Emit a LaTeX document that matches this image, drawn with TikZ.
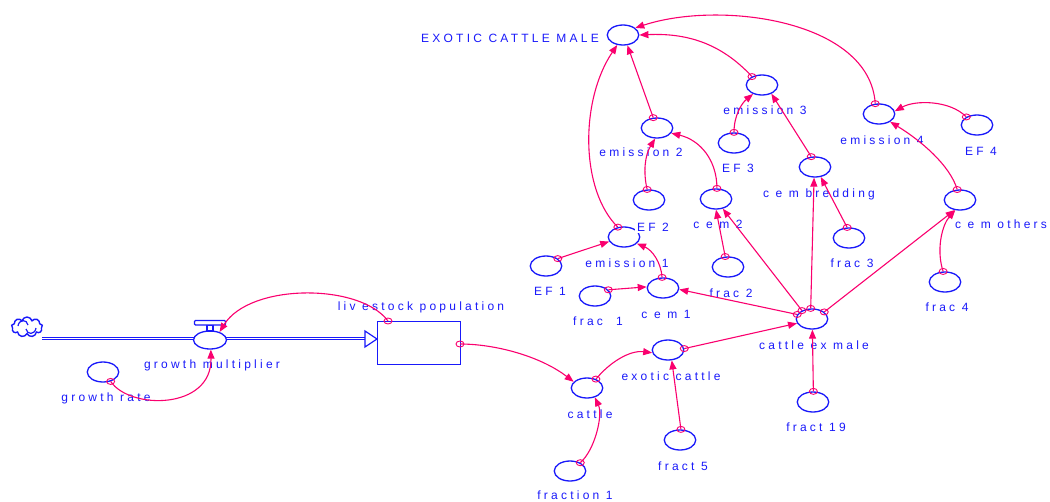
\documentclass[tikz,border=0pt]{standalone}
\usepackage{fontspec}
\newfontfamily\lblfont{Liberation Sans}[LetterSpace=27]
\usetikzlibrary{arrows.meta,shapes.geometric,shapes.symbols}
\definecolor{blu}{RGB}{25,25,250}
\definecolor{pnk}{RGB}{250,0,110}

\begin{document}
\begin{tikzpicture}[x=1pt,y=-1pt,
  conv/.style={draw=blu, ellipse, line width=1.3pt, minimum width=31.5pt, minimum height=20pt, inner sep=0pt},
  lbl/.style={text=blu, font=\lblfont\fontsize{12}{14}\selectfont, inner sep=0pt, anchor=base},
  conn/.style={draw=pnk, line width=1.1pt, -{Triangle[length=9pt,width=7pt]}},
  tap/.style={draw=pnk, ellipse, line width=0.9pt, minimum width=8pt, minimum height=6pt, inner sep=0pt},
  pipe/.style={draw=blu, double=white, double distance=1.1pt, line width=1.3pt},
]
\useasboundingbox (0,0) rectangle (1050,501);

% flow pipe from the source cloud into the stock
\coordinate (pipeA) at (42,338.5);
\coordinate (pipeB) at (366,338.5);
\draw[pipe] (pipeA) -- (pipeB);
\draw[blu, line width=1.2pt, fill=white] (365,331) -- (377,339) -- (365,347) -- cycle;

% source cloud
\node[cloud, cloud puffs=9, aspect=1.5, draw=blu, line width=1.4pt,
      minimum width=31pt, minimum height=20pt, inner sep=0pt] (src) at (27,327) {};
\draw[blu, line width=1.2pt] (18,326) .. controls (19,319) and (27,319) .. (28,325);
\draw[blu, line width=1.2pt] (36,328) .. controls (35,335) and (27,335) .. (26,329);

% stock
\node[draw=blu, line width=1.3pt, minimum width=83pt, minimum height=43pt,
      inner sep=0pt, anchor=north west] (pop) at (377,321) {};

% valve
\node[conv, fill=white, minimum width=33pt, minimum height=18pt] (gm) at (210,340) {};
\draw[blu, line width=1.1pt, fill=white] (207,325) rectangle (213,331);
\draw[blu, line width=1.1pt, fill=white, rounded corners=1pt] (194.5,320.5) rectangle (225.5,325);

% converters
\node[conv] (ecm) at (623,35) {};
\node[conv] (em2) at (657,128) {};
\node[conv] (ef2) at (649,200) {};
\node[conv] (em1) at (624,237) {};
\node[conv] (ef1) at (546,266) {};
\node[conv] (fr1) at (595,296) {};
\node[conv] (cem1) at (663,288) {};
\node[conv] (cem2) at (716,199) {};
\node[conv] (fr2) at (728,267) {};
\node[conv] (fr3) at (849,238) {};
\node[conv] (cxm) at (812,319) {};
\node[conv] (exc) at (668,350) {};
\node[conv] (cat) at (587,388) {};
\node[conv] (fn1) at (570,471) {};
\node[conv] (f5) at (680,440) {};
\node[conv] (f19) at (813,402) {};
\node[conv] (em3) at (762,85) {};
\node[conv] (ef3) at (734,143) {};
\node[conv] (cemb) at (815,167) {};
\node[conv] (em4) at (879,114) {};
\node[conv] (ef4) at (977,125) {};
\node[conv] (cemo) at (960,200) {};
\node[conv] (fr4) at (945,282) {};
\node[conv] (gr) at (103,372) {};

% labels
\node[lbl] (tecm) at (510,42) {EXOTIC CATTLE MALE};
\node[lbl] (tem2) at (641,156) {emission 2};
\node[lbl, fill=white, inner sep=2pt] (tef2) at (653,231) {EF 2};
\node[lbl] (tem1) at (627,267) {emission 1};
\node[lbl] (tef1) at (550,295) {EF 1};
\node[lbl] (tfr1) at (598,325) {frac\ \ 1};
\node[lbl] (tcem1) at (666,318) {c e m 1};
\node[lbl] (tcem2) at (718,228) {c e m 2};
\node[lbl] (tfr2) at (731,297) {frac 2};
\node[lbl] (tfr3) at (852,267) {frac 3};
\node[lbl] (tcxm) at (814,349) {cattle ex male};
\node[lbl] (texc) at (671,380) {exotic cattle};
\node[lbl] (tcat) at (590,418) {cattle};
\node[lbl] (tfn1) at (575,499) {fraction 1};
\node[lbl] (tf5) at (683,470) {fract 5};
\node[lbl] (tf19) at (816,431) {fract 19};
\node[lbl] (tem3) at (765,114) {emission 3};
\node[lbl] (tef3) at (738,172) {EF 3};
\node[lbl] (tcemb) at (819,197) {c e m bredding};
\node[lbl] (tem4) at (882,144) {emission 4};
\node[lbl] (tef4) at (981,155) {EF 4};
\node[lbl] (tcemo) at (1001,228) {c e m others};
\node[lbl] (tfr4) at (947,311) {frac 4};
\node[lbl] (tgm) at (212,368) {growth multiplier};
\node[lbl] (tgr) at (106,401) {growth rate};
\node[lbl] (tpop) at (421,310) {liv estock population};

% connectors
\coordinate (popT) at (388,321);
\coordinate (popR) at (460,344);
\draw[conn] (gr.-51) .. controls (130,410) and (212,410) .. (gm.-85);
\draw[conn] (popT) .. controls (360,283) and (250,283) .. (gm.40);
\draw[conn] (popR) .. controls (495,344) and (540,356) .. (cat.155);
\draw[conn] (fn1.39) .. controls (595,450) and (603,415) .. (cat.-50);
\draw[conn] (cat.45) .. controls (610,362) and (630,350) .. (exc.190);
\draw[conn] (f5.85) -- (exc.-70);
\draw[conn] (exc.5) -- (cxm.196);
\draw[conn] (f19.88) -- (cxm.-88);
\draw[conn] (cxm.163) -- (cem1.-5);
\draw[conn] (cxm.140) -- (cem2.-55);
\draw[conn] (fr2.105) -- (cem2.-90);
\draw[conn] (cxm.97) -- (cemb.-95);
\draw[conn] (cxm.30) -- (cemo.-118);
\draw[conn] (fr1.25) -- (cem1.176);
\draw[conn] (cem1.95) .. controls (661,262) and (652,250) .. (em1.-27);
\draw[conn] (ef1.32) -- (em1.197);
\draw[conn] (em1.122) .. controls (580,190) and (580,100) .. (ecm.-120);
\draw[conn] (em2.110) -- (ecm.-67);
\draw[conn] (ef2.100) .. controls (643,172) and (645,155) .. (em2.-100);
\draw[conn] (cem2.85) .. controls (717,160) and (700,140) .. (em2.-20);
\draw[conn] (em3.140) .. controls (720,42) and (685,33) .. (ecm.0);
\draw[conn] (ef3.90) .. controls (734,115) and (742,103) .. (em3.-135);
\draw[conn] (cemb.110) -- (em3.-43);
\draw[conn] (fr3.100) -- (cemb.-60);
\draw[conn] (em4.110) .. controls (870,20) and (720,0) .. (ecm.30);
\draw[conn] (ef4.143) .. controls (950,100) and (915,100) .. (em4.10);
\draw[conn] (cemo.105) .. controls (950,165) and (920,140) .. (em4.-35);
\draw[conn] (fr4.100) .. controls (936,250) and (942,225) .. (cemo.-115);

% connector taps
\foreach \p in {gr.-51, popT, popR, fn1.39, cat.45, f5.85, exc.5, f19.88,
  cxm.163, cxm.140, fr2.105, cxm.97, cxm.30, fr1.25, cem1.95, ef1.32,
  em1.122, em2.110, ef2.100, cem2.85, em3.140, ef3.90, cemb.110, fr3.100,
  em4.110, ef4.143, cemo.105, fr4.100}
  \node[tap] at (\p) {};
\end{tikzpicture}
\end{document}
